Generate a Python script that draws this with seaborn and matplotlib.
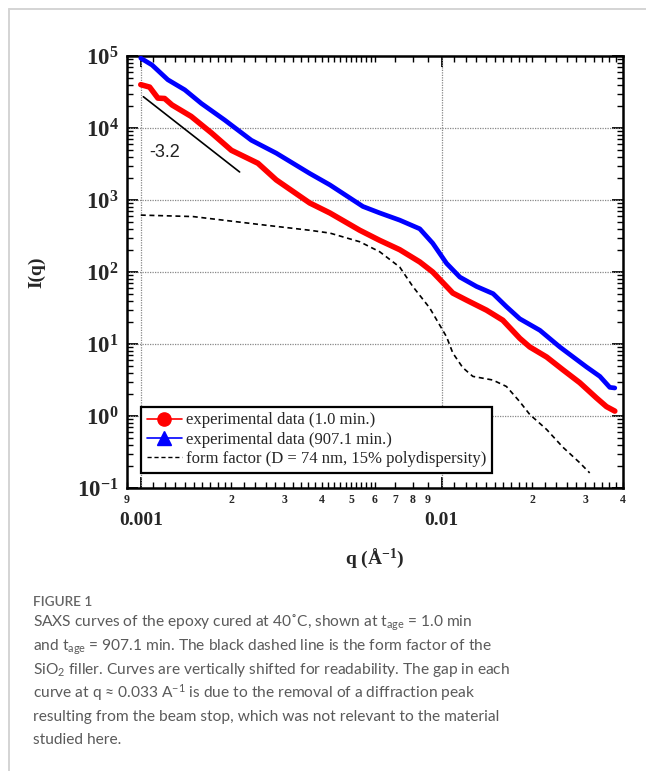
import numpy as np
import pandas as pd
import matplotlib
matplotlib.use("Agg")
import matplotlib.pyplot as plt
import seaborn as sns
from matplotlib.lines import Line2D
from matplotlib.ticker import FixedLocator, FixedFormatter, NullFormatter

# ---------------- data ----------------
q_red = [0.00100, 0.00107, 0.00114, 0.00120, 0.00127, 0.00147, 0.00172, 0.00200,
         0.00245, 0.00282, 0.00364, 0.00425, 0.00534, 0.00622, 0.00725, 0.00845,
         0.00933, 0.01037, 0.01088, 0.01208, 0.01408, 0.01595, 0.01816, 0.0196,
         0.0223, 0.02523, 0.02874, 0.03266, 0.03525, 0.03757]
I_red = [4.0e4, 3.7e4, 2.6e4, 2.57e4, 2.09e4, 1.45e4, 8.5e3, 4.9e3,
         3.24e3, 1.9e3, 910, 660, 380, 275, 204, 138,
         100, 63, 51, 40.7, 29.5, 21.4, 12.0, 9.1,
         6.6, 4.4, 2.9, 1.78, 1.35, 1.17]

q_blue = [0.00100, 0.00109, 0.00123, 0.00140, 0.00159, 0.00190, 0.00233, 0.00282,
          0.00364, 0.00425, 0.00547, 0.00622, 0.00725, 0.00845, 0.00933, 0.01037,
          0.01148, 0.01304, 0.01481, 0.0164, 0.01816, 0.02118, 0.02466, 0.03025,
          0.03351, 0.03615, 0.03757]
I_blue = [9.33e4, 7.5e4, 4.68e4, 3.39e4, 2.19e4, 1.29e4, 6.76e3, 4.47e3,
          2.34e3, 1.62e3, 813, 661, 525, 398, 251, 132,
          85, 63, 50, 33, 22.4, 15.5, 9.1, 4.8,
          3.55, 2.5, 2.45]

q_ff = [0.00100, 0.00149, 0.00248, 0.00364, 0.00425, 0.00534, 0.00622, 0.00725,
        0.00801, 0.00912, 0.01037, 0.01088, 0.01174, 0.01268, 0.01477, 0.0164,
        0.01816, 0.0196, 0.0223, 0.02523, 0.02874, 0.0310]
I_ff = [617, 589, 457, 380, 347, 263, 191, 117,
        63, 31.6, 12.6, 7.5, 4.7, 3.55, 3.16, 2.57,
        1.58, 1.05, 0.65, 0.37, 0.224, 0.162]

q_slope = [0.00102, 0.00213]
I_slope = [2.72e4, 2.45e3]
slope_label = "-3.2"

legend_labels = ["experimental data (1.0 min.)",
                 "experimental data (907.1 min.)",
                 "form factor (D = 74 nm, 15% polydispersity)"]

y_major = [1e-1, 1e0, 1e1, 1e2, 1e3, 1e4, 1e5]
y_labels = [r"$\mathbf{10^{-1}}$", r"$\mathbf{10^{0}}$", r"$\mathbf{10^{1}}$",
            r"$\mathbf{10^{2}}$", r"$\mathbf{10^{3}}$", r"$\mathbf{10^{4}}$",
            r"$\mathbf{10^{5}}$"]
x_major = [0.001, 0.01]
x_major_labels = ["0.001", "0.01"]
x_digit_pos = [0.0009, 0.002, 0.003, 0.004, 0.005, 0.006, 0.007, 0.008, 0.009,
               0.02, 0.03, 0.04]
x_digit_labels = ["9", "2", "3", "4", "5", "6", "7", "8", "9", "2", "3", "4"]

caption_title = "FIGURE 1"
caption_lines = [
    r"SAXS curves of the epoxy cured at 40˚C, shown at t$_{\mathsf{age}}$ = 1.0 min",
    r"and t$_{\mathsf{age}}$ = 907.1 min. The black dashed line is the form factor of the",
    r"SiO$_{\mathsf{2}}$ filler. Curves are vertically shifted for readability. The gap in each",
    r"curve at q ≈ 0.033 A$^{\mathsf{-1}}$ is due to the removal of a diffraction peak",
    "resulting from the beam stop, which was not relevant to the material",
    "studied here.",
]

# ---------------- style ----------------
sns.set_style("ticks")
plt.rcParams["font.family"] = ["Liberation Serif", "DejaVu Serif"]
plt.rcParams["mathtext.fontset"] = "custom"
plt.rcParams["mathtext.rm"] = "Liberation Serif:bold"
plt.rcParams["mathtext.bf"] = "Liberation Serif:bold"
plt.rcParams["mathtext.it"] = "Liberation Serif:bold:italic"
plt.rcParams["mathtext.sf"] = "Lato"

fig = plt.figure(figsize=(6.46, 7.71), dpi=100)
ax = fig.add_axes([127 / 646, 1 - 488 / 771, 496 / 646, 432 / 771])

df_red = pd.DataFrame({"q": q_red, "I": I_red})
df_blue = pd.DataFrame({"q": q_blue, "I": I_blue})
df_ff = pd.DataFrame({"q": q_ff, "I": I_ff})
df_sl = pd.DataFrame({"q": q_slope, "I": I_slope})

sns.lineplot(data=df_ff, x="q", y="I", ax=ax, color="black", lw=1.2,
             linestyle=(0, (3, 2.2)), sort=False, zorder=3)
sns.lineplot(data=df_red, x="q", y="I", ax=ax, color="#ff0000", lw=4.0,
             sort=False, zorder=4)
sns.lineplot(data=df_blue, x="q", y="I", ax=ax, color="#0000ff", lw=3.4,
             sort=False, zorder=4)
sns.lineplot(data=df_sl, x="q", y="I", ax=ax, color="black", lw=1.2,
             sort=False, zorder=4)

ax.set_xscale("log")
ax.set_yscale("log")
ax.set_xlim(0.0009, 0.04)
ax.set_ylim(0.1, 1e5)

ax.text(0.00120, 4.5e3, slope_label, fontsize=13, family="Liberation Sans",
        ha="center", va="center", color="#222222")

# grid
ax.grid(False)
for xv in x_major:
    ax.axvline(xv, color="#888888", ls=(0, (1, 1)), lw=0.9, zorder=1)
for yv in y_major[1:-1]:
    ax.axhline(yv, color="#888888", ls=(0, (1, 1)), lw=0.9, zorder=1)

# y ticks
ax.yaxis.set_major_locator(FixedLocator(y_major))
ax.yaxis.set_major_formatter(FixedFormatter(y_labels))
y_minor = [m * 10.0 ** e for e in range(-1, 5) for m in range(2, 10)]
ax.yaxis.set_minor_locator(FixedLocator(y_minor))
ax.yaxis.set_minor_formatter(NullFormatter())

# x ticks
fine = []
for dec in [1e-3, 1e-2]:
    fine += [dec * v for v in np.arange(1.1, 2.0, 0.1)]
    fine += [dec * v for v in np.arange(2.2, 6.0, 0.2) if abs(v - round(v)) > 1e-6]
fine = [f for f in fine if f < 0.04]
ax.xaxis.set_major_locator(FixedLocator(x_major))
ax.xaxis.set_major_formatter(FixedFormatter(x_major_labels))
ax.xaxis.set_minor_locator(FixedLocator(x_digit_pos + fine))
ax.xaxis.set_minor_formatter(FixedFormatter(x_digit_labels + [""] * len(fine)))

ax.tick_params(which="both", direction="in", top=True, right=True,
               color="black")
ax.tick_params(which="major", length=8, width=1.3)
ax.tick_params(which="minor", length=4, width=1.0)
ax.tick_params(axis="y", which="major", labelsize=16.5, pad=6)
ax.tick_params(axis="x", which="major", labelsize=14, pad=17)
ax.tick_params(axis="x", which="minor", labelsize=8.5, pad=4)
for lab in ax.get_xticklabels(which="both"):
    lab.set_fontweight("bold")

for s in ax.spines.values():
    s.set_linewidth(1.8)
    s.set_color("black")

ax.set_xlabel(r"q (Å$^{\mathbf{-1}}$)", fontsize=14, fontweight="bold")
ax.set_ylabel("I(q)", fontsize=14, fontweight="bold")
ax.xaxis.set_label_coords(0.5, -0.135)
ax.yaxis.set_label_coords(-0.165, 0.5)

handles = [
    Line2D([], [], color="#ff0000", marker="o", markersize=9.5, lw=1.2),
    Line2D([], [], color="#0000ff", marker="^", markersize=9.5, lw=1.2),
    Line2D([], [], color="black", lw=1.0, linestyle=(0, (3, 2))),
]
leg = ax.legend(handles, legend_labels, loc="lower left",
                bbox_to_anchor=(0.028, 0.035), borderaxespad=0,
                frameon=True, fancybox=False, framealpha=1,
                edgecolor="black", prop={"family": "Liberation Serif", "size": 12},
                handlelength=2.1, handletextpad=0.25, labelspacing=0.2,
                borderpad=0.35)
leg.get_frame().set_linewidth(1.6)

# figure panel border (top and left)
fig.add_artist(Line2D([9 / 646, 9 / 646], [0, 1 - 9 / 771], color="#d4d4d4",
                      lw=1.4, transform=fig.transFigure))
fig.add_artist(Line2D([9 / 646, 1], [1 - 9 / 771, 1 - 9 / 771], color="#d4d4d4",
                      lw=1.4, transform=fig.transFigure))

# caption
cap_family = ["Lato", "DejaVu Sans"]
fig.text(33 / 646, 1 - 606 / 771, caption_title, fontsize=9.8, family=cap_family,
         fontweight="semibold", color="#666666", ha="left", va="baseline")
baselines = [627, 650.5, 674, 697.5, 721, 744.5]
for line, b in zip(caption_lines, baselines):
    fig.text(33 / 646, 1 - b / 771, line, fontsize=11.2, family=cap_family,
             color="#5a5a5a", ha="left", va="baseline")

fig.savefig("out.png", dpi=100)
